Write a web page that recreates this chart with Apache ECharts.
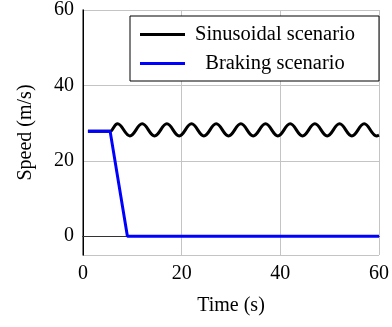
<!DOCTYPE html>
<html>
<head>
<meta charset="utf-8">
<script src="https://cdn.jsdelivr.net/npm/echarts@6/dist/echarts.min.js"></script>
<style>html,body{margin:0;padding:0;background:#fff;}#c{width:392px;height:327px;}</style>
</head>
<body>
<div id="c"></div>
<script>
const seriesNames = ['Sinusoidal scenario', 'Braking scenario'];
const sinTime = [1, 5.5, 5.7, 7, 9.5, 12, 14.5, 17, 19.5, 22, 24.5, 27, 29.5, 32, 34.5, 37, 39.5, 42, 44.5, 47, 49.5, 52, 54.5, 57, 59.5, 60];
const sinSpeed = [27.8, 27.8, 27.9, 29.8, 26.6, 29.8, 26.6, 29.8, 26.6, 29.8, 26.6, 29.8, 26.6, 29.8, 26.6, 29.8, 26.6, 29.8, 26.6, 29.8, 26.6, 29.8, 26.6, 29.8, 26.6, 26.8];
const brakeTime = [1, 5.5, 9, 60];
const brakeSpeed = [27.8, 27.8, 0, 0];
const xTicks = [0, 20, 40, 60];
const yTicks = [0, 20, 40, 60];

const FONT = 'Liberation Serif';
const zip = (a, b) => a.map((v, i) => [v, b[i]]);

const chart = echarts.init(document.getElementById('c'), null, {renderer: 'canvas'});
const gridLine = {show: true, lineStyle: {color: '#c4c4c4', width: 1}};
const option = {
  animation: false,
  backgroundColor: '#fff',
  grid: {left: 83, right: 11, top: 8, bottom: 72, containLabel: false},
  xAxis: [{
    type: 'value', min: 0, max: 60, interval: 20, position: 'bottom',
    name: 'Time (s)', nameLocation: 'middle', nameGap: 41,
    nameTextStyle: {fontFamily: FONT, fontSize: 20, color: '#000'},
    axisLine: {show: true, lineStyle: {color: '#000', width: 1}},
    axisTick: {show: false},
    axisLabel: {fontFamily: FONT, fontSize: 20, color: '#000', margin: 9,
      formatter: v => xTicks.includes(v) ? String(v) : ''},
    splitLine: gridLine
  }, {
    type: 'value', min: 0, max: 60, interval: 20, position: 'top',
    axisLine: {show: true, lineStyle: {color: '#333', width: 1}},
    axisTick: {show: false}, axisLabel: {show: false}, splitLine: {show: false}
  }],
  yAxis: [{
    type: 'value', min: -5, max: 60, splitNumber: 3, position: 'left',
    name: 'Speed (m/s)', nameLocation: 'middle', nameGap: 47, nameRotate: 90,
    nameTextStyle: {fontFamily: FONT, fontSize: 20, color: '#000'},
    axisLine: {show: true, lineStyle: {color: '#555', width: 1.5}},
    axisTick: {show: false},
    axisLabel: {fontFamily: FONT, fontSize: 20, color: '#000', margin: 9,
      formatter: v => yTicks.includes(v) ? String(v) : ''},
    splitLine: gridLine
  }, {
    type: 'value', min: -5, max: 60, splitNumber: 3, position: 'right',
    axisLine: {show: true, lineStyle: {color: '#000', width: 1}},
    axisTick: {show: false}, axisLabel: {show: false}, splitLine: {show: false}
  }],
  legend: {
    orient: 'vertical', left: 130, top: 16,
    padding: [4, 19, 3, 10], itemGap: 0,
    itemWidth: 45, itemHeight: 3,
    backgroundColor: '#fff', borderColor: '#000', borderWidth: 1,
    data: seriesNames.map(n => ({name: n, icon: 'rect'})),
    formatter: n => '{a|' + n + '}',
    textStyle: {
      fontFamily: FONT, fontSize: 20.5, color: '#000',
      rich: {a: {fontFamily: FONT, fontSize: 20.5, color: '#000', width: 170, align: 'center', lineHeight: 29, height: 29}}
    }
  },
  series: [{
    name: seriesNames[0], type: 'line', data: zip(sinTime, sinSpeed),
    smooth: 0.4, showSymbol: false, symbol: 'none', clip: true,
    lineStyle: {color: '#000', width: 3}, itemStyle: {color: '#000'}, z: 3
  }, {
    name: seriesNames[1], type: 'line', data: zip(brakeTime, brakeSpeed),
    showSymbol: false, symbol: 'none', clip: true,
    lineStyle: {color: '#0000ff', width: 3}, itemStyle: {color: '#0000ff'}, z: 4
  }]
};
chart.setOption(option);
</script>
</body>
</html>
